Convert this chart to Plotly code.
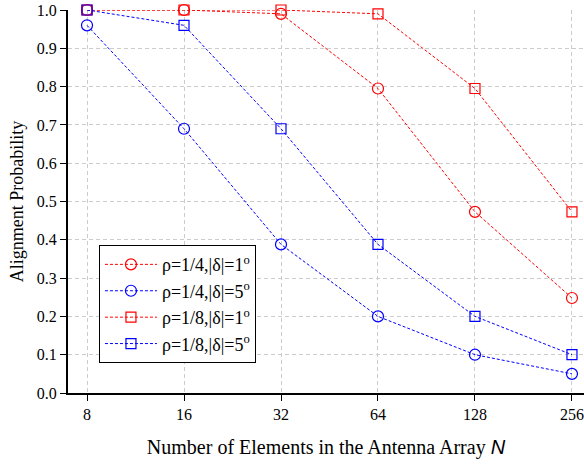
import plotly.graph_objects as go
import math

N = [8, 16, 32, 64, 128, 256]
rho4_d1 = [1.0, 1.0, 0.99, 0.795, 0.473, 0.248]
rho4_d5 = [0.96, 0.69, 0.388, 0.2, 0.1, 0.05]
rho8_d1 = [1.0, 1.0, 1.0, 0.99, 0.795, 0.473]
rho8_d5 = [1.0, 0.96, 0.69, 0.388, 0.2, 0.1]
yticks = [0.0, 0.1, 0.2, 0.3, 0.4, 0.5, 0.6, 0.7, 0.8, 0.9, 1.0]

series = [
    ("ρ=1/4,|δ|=1<sup>o</sup>", rho4_d1, "#ff0000", "circle-open"),
    ("ρ=1/4,|δ|=5<sup>o</sup>", rho4_d5, "#0000ff", "circle-open"),
    ("ρ=1/8,|δ|=1<sup>o</sup>", rho8_d1, "#ff0000", "square-open"),
    ("ρ=1/8,|δ|=5<sup>o</sup>", rho8_d5, "#0000ff", "square-open"),
]

fig = go.Figure()
for name, vals, col, sym in series:
    fig.add_trace(go.Scatter(
        x=N, y=vals, name=name, mode="lines+markers",
        line=dict(color=col, width=1, dash="3px,2px"),
        marker=dict(symbol=sym, size=11 if "circle" in sym else 10,
                    color=col, line=dict(color=col, width=1.2)),
        cliponaxis=False,
    ))

fig.update_layout(
    width=584, height=466,
    margin=dict(l=68, r=0, t=10, b=73, autoexpand=False),
    paper_bgcolor="white", plot_bgcolor="white",
    font=dict(family="Liberation Serif", size=16, color="black"),
    legend=dict(x=0.06, y=0.386, xanchor="left", yanchor="top",
                bgcolor="white", bordercolor="black", borderwidth=1,
                font=dict(size=18, family="Liberation Serif"),
                tracegroupgap=0, itemwidth=52),
    showlegend=True,
)
fig.update_xaxes(
    type="log",
    range=[2.804 * math.log10(2), 8.124 * math.log10(2)],
    tickvals=N, ticktext=[str(v) for v in N],
    showgrid=True, gridcolor="#cccccc", griddash="4px,3px", gridwidth=1,
    showline=True, linecolor="black", linewidth=2,
    ticks="outside", ticklen=6, tickcolor="black", tickwidth=1,
    tickfont=dict(size=16), ticklabeloverflow="allow", automargin=False,
    zeroline=False,
    title=dict(text="Number of Elements in the Antenna Array <span style=\"font-family:Liberation Sans\"><i>N</i></span>",
               font=dict(size=20), standoff=18),
)
fig.update_yaxes(
    range=[0, 1],
    tickvals=yticks, ticktext=[f"{v:.1f}" for v in yticks],
    showgrid=True, gridcolor="#cccccc", griddash="4px,3px", gridwidth=1,
    showline=True, linecolor="black", linewidth=2,
    ticks="outside", ticklen=6, tickcolor="black", tickwidth=1,
    tickfont=dict(size=16), ticklabeloverflow="allow", automargin=False,
    zeroline=False,
    title=dict(text="Alignment Probability", font=dict(size=18), standoff=8),
)
fig.write_html(
    "out.html",
    config={"displayModeBar": False},
    post_script="document.body.style.margin='0';document.body.style.overflow='hidden';",
)
